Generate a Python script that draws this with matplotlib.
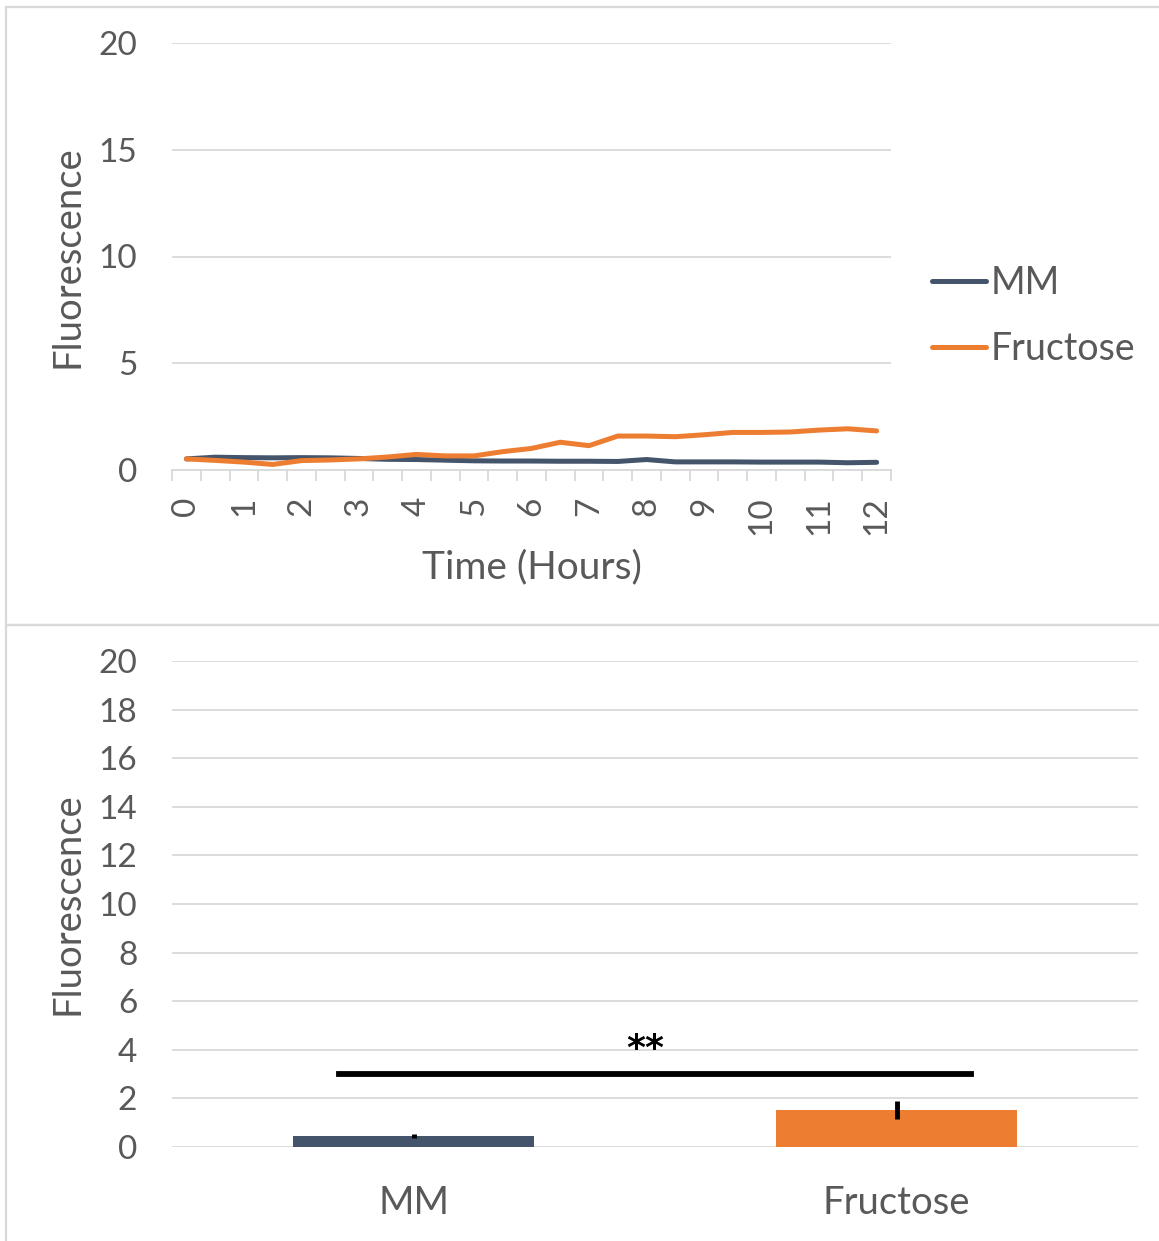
import numpy as np
import matplotlib
matplotlib.use("Agg")
import matplotlib.pyplot as plt
from matplotlib.patches import Rectangle

plt.rcParams['font.family'] = ['Lato', 'DejaVu Sans']

# time course, readings every half hour
hours = np.arange(0, 12.5, 0.5)
mm = [0.52, 0.60, 0.58, 0.57, 0.58, 0.57, 0.54, 0.50, 0.49, 0.46, 0.43, 0.42, 0.42,
      0.41, 0.41, 0.40, 0.49, 0.38, 0.38, 0.38, 0.37, 0.37, 0.37, 0.34, 0.36]
fructose = [0.52, 0.45, 0.37, 0.26, 0.44, 0.47, 0.52, 0.61, 0.73, 0.66, 0.66, 0.86, 1.01,
            1.30, 1.14, 1.59, 1.59, 1.56, 1.65, 1.76, 1.76, 1.78, 1.87, 1.93, 1.83]

# endpoint means with error
groups = ["MM", "Fructose"]
means = [0.45, 1.52]
errs = [0.08, 0.36]
sig_level = 3.0
sig_label = "**"

navy = "#44546A"
orange = "#ED7D31"
txt = "#595959"
grid = "#D9D9D9"

W, H = 1159, 1241
fig = plt.figure(figsize=(W / 100, H / 100), dpi=100)


def box(x0, y0, x1, y1):
    # pixel box -> figure fraction [left, bottom, width, height]
    return [x0 / W, 1 - y1 / H, (x1 - x0) / W, (y1 - y0) / H]


# chart frames
for y0, y1 in [(7, 625), (625, 1260)]:
    fig.add_artist(Rectangle((6 / W, 1 - y1 / H), 1.2, (y1 - y0) / H, transform=fig.transFigure,
                             fill=False, edgecolor=grid, lw=1.6))

# --- line chart ---
ax1 = fig.add_axes(box(172, 43, 891, 470))
idx = np.arange(len(hours))
ax1.plot(idx, mm, color=navy, lw=3.6, solid_capstyle='round', solid_joinstyle='round', label="MM")
ax1.plot(idx, fructose, color=orange, lw=3.6, solid_capstyle='round', solid_joinstyle='round', label="Fructose")
ax1.set_xlim(-0.5, len(hours) - 0.5)
ax1.set_ylim(0, 20)
ax1.set_yticks([0, 5, 10, 15, 20])
ax1.yaxis.grid(True, color=grid, lw=1.3)
ax1.set_axisbelow(True)
for s in ['top', 'right', 'left']:
    ax1.spines[s].set_visible(False)
ax1.spines['bottom'].set_color(grid)
ax1.spines['bottom'].set_linewidth(1.3)
ax1.tick_params(axis='y', length=0, pad=25, labelsize=24, labelcolor=txt)
ax1.set_xticks(idx[::2])
ax1.set_xticklabels([str(int(h)) for h in hours[::2]], rotation=90, va='top', ha='center')
ax1.set_xticks(np.arange(-0.5, len(hours)), minor=True)
ax1.tick_params(axis='x', which='major', length=0, pad=19, labelsize=24, labelcolor=txt)
ax1.tick_params(axis='x', which='minor', length=8, width=1.3, color=grid)
ax1.set_xlabel("Time (Hours)", fontsize=28, color=txt, labelpad=10)
ax1.set_ylabel("Fluorescence", fontsize=27.5, color=txt, va='center')
ax1.yaxis.set_label_coords((67 - 172) / 719, 0.5)
leg = ax1.legend(loc='center left', bbox_to_anchor=((932 - 172) / 719, (470 - 316) / 427),
                 frameon=False, fontsize=27, handlelength=1.45, handletextpad=0.12,
                 labelspacing=0.82, borderpad=0, borderaxespad=0)
for t in leg.get_texts():
    t.set_color(txt)

# --- bar chart ---
ax2 = fig.add_axes(box(172, 661, 1138, 1147))
pos = np.arange(len(groups))
ax2.bar(pos, means, width=0.5, color=[navy, orange], zorder=2)
ax2.errorbar(pos, means, yerr=errs, fmt='none', ecolor='black', elinewidth=3.5, capsize=0, zorder=3)
ax2.plot([-0.155, 1.155], [sig_level, sig_level], color='black', lw=4.2, zorder=3)
ax2.text(0.48, sig_level + 0.62, sig_label, ha='center', va='baseline', fontsize=26,
         color='black', family='DejaVu Sans', fontweight='bold')
ax2.set_xlim(-0.5, 1.5)
ax2.set_ylim(0, 20)
ax2.set_yticks(np.arange(0, 21, 2))
ax2.yaxis.grid(True, color=grid, lw=1.3)
ax2.set_axisbelow(True)
for s in ax2.spines.values():
    s.set_visible(False)
ax2.set_xticks(pos)
ax2.set_xticklabels(groups)
ax2.tick_params(axis='y', length=0, pad=25, labelsize=24, labelcolor=txt)
ax2.tick_params(axis='x', length=0, pad=27, labelsize=27.5, labelcolor=txt)
ax2.set_ylabel("Fluorescence", fontsize=27.5, color=txt, va='center')
ax2.yaxis.set_label_coords((67 - 172) / 966, 0.5)

fig.savefig("out.png", dpi=100)
